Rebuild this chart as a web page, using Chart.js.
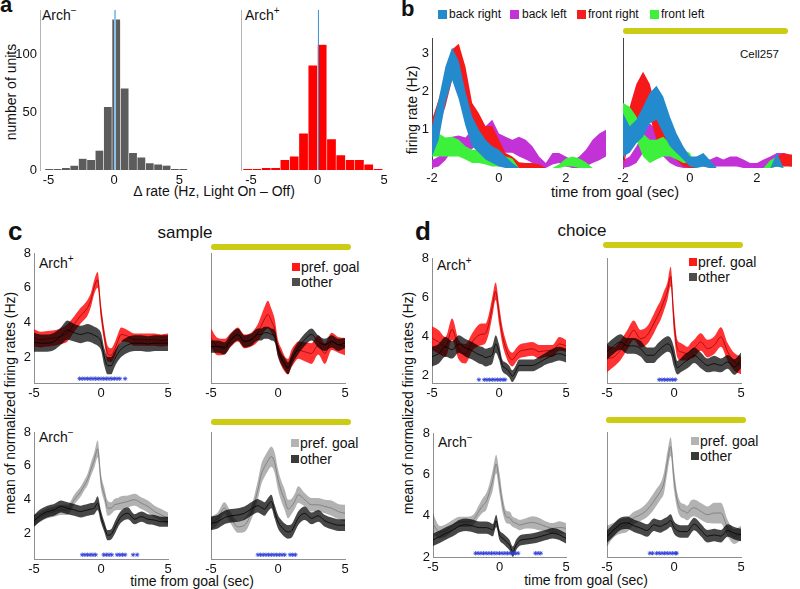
<!DOCTYPE html>
<html><head><meta charset="utf-8">
<script src="https://cdn.jsdelivr.net/npm/chart.js@4.4.1/dist/chart.umd.min.js"></script>
<style>
html,body{margin:0;padding:0;background:#fff;overflow:hidden;}
#fig{position:relative;width:800px;height:589px;overflow:hidden;background:#fff;font-family:"Liberation Sans",Arial,Helvetica,sans-serif;color:#111;}
#fig canvas{position:absolute;left:0;top:0;}
.t{position:absolute;white-space:nowrap;line-height:1;}
.lft{position:absolute;white-space:nowrap;line-height:1;transform:translateY(-50%);}
.ctr{position:absolute;white-space:nowrap;line-height:1;transform:translate(-50%,-50%);}
.rot{position:absolute;white-space:nowrap;line-height:1;transform:translate(-50%,-50%) rotate(-90deg);}
.ybar{position:absolute;background:#cccc14;border-radius:3px;height:6px;}
.sq{position:absolute;width:8px;height:8px;}
.sup{font-size:10px;position:relative;top:-6px;}
.bold{font-weight:bold;}
</style></head>
<body><div id="fig">
<div class="t bold" style="left:0;top:-6px;font-size:22px;">a</div>
<div class="t bold" style="left:401px;top:-2px;font-size:22px;">b</div>
<div class="t bold" style="left:8px;top:218px;font-size:26px;">c</div>
<div class="t bold" style="left:415px;top:218px;font-size:26px;">d</div>

<div class="t" style="left:42px;top:8px;font-size:14px;">Arch<span class="sup">−</span></div>
<div class="t" style="left:245px;top:8px;font-size:14px;">Arch<span class="sup">+</span></div>
<div class="rot" style="left:11px;top:92px;font-size:14px;">number of units</div>
<div class="ctr" style="left:214px;top:191px;font-size:14px;">Δ rate (Hz, Light On – Off)</div>

<div class="sq" style="left:438px;top:10px;width:9px;height:9px;background:rgb(35,138,205);"></div>
<div class="lft" style="left:449px;top:14px;font-size:12px;">back right</div>
<div class="sq" style="left:510px;top:10px;width:9px;height:9px;background:rgb(195,50,215);"></div>
<div class="lft" style="left:522px;top:14px;font-size:12px;">back left</div>
<div class="sq" style="left:577px;top:10px;width:9px;height:9px;background:rgb(245,30,30);"></div>
<div class="lft" style="left:588px;top:14px;font-size:12px;">front right</div>
<div class="sq" style="left:650px;top:10px;width:9px;height:9px;background:rgb(60,240,60);"></div>
<div class="lft" style="left:661px;top:14px;font-size:12px;">front left</div>
<div class="ybar" style="left:623px;top:28px;width:165px;"></div>
<div class="lft" style="left:740px;top:55px;font-size:11.5px;">Cell257</div>
<div class="rot" style="left:412px;top:110px;font-size:14px;">firing rate (Hz)</div>
<div class="ctr" style="left:615px;top:192px;font-size:14.5px;">time from goal (sec)</div>

<div class="ctr" style="left:185px;top:232px;font-size:17px;">sample</div>
<div class="ctr" style="left:582px;top:230px;font-size:17px;">choice</div>
<div class="t" style="left:39px;top:256px;font-size:14px;">Arch<span class="sup">+</span></div>
<div class="t" style="left:39px;top:430px;font-size:14px;">Arch<span class="sup">−</span></div>
<div class="t" style="left:437px;top:258px;font-size:14px;">Arch<span class="sup">+</span></div>
<div class="t" style="left:438px;top:435px;font-size:14px;">Arch<span class="sup">−</span></div>
<div class="ybar" style="left:211px;top:244px;width:140px;"></div>
<div class="ybar" style="left:211px;top:419px;width:140px;"></div>
<div class="ybar" style="left:603px;top:242px;width:140px;"></div>
<div class="ybar" style="left:606px;top:417px;width:140px;"></div>

<div class="sq" style="left:292px;top:263px;background:rgb(255,25,25);"></div>
<div class="lft" style="left:301px;top:267px;font-size:14px;">pref. goal</div>
<div class="sq" style="left:292px;top:278px;background:#4d4d4d;"></div>
<div class="lft" style="left:301px;top:282px;font-size:14px;">other</div>
<div class="sq" style="left:291px;top:439px;background:#b3b3b3;"></div>
<div class="lft" style="left:300px;top:443px;font-size:14px;">pref. goal</div>
<div class="sq" style="left:291px;top:455px;background:#3a3a3a;"></div>
<div class="lft" style="left:300px;top:459px;font-size:14px;">other</div>
<div class="sq" style="left:689px;top:258px;background:rgb(255,25,25);"></div>
<div class="lft" style="left:698px;top:262px;font-size:14px;">pref. goal</div>
<div class="sq" style="left:689px;top:273px;background:#4d4d4d;"></div>
<div class="lft" style="left:698px;top:277px;font-size:14px;">other</div>
<div class="sq" style="left:691px;top:437px;background:#b3b3b3;"></div>
<div class="lft" style="left:700px;top:441px;font-size:14px;">pref. goal</div>
<div class="sq" style="left:691px;top:452px;background:#3a3a3a;"></div>
<div class="lft" style="left:700px;top:456px;font-size:14px;">other</div>

<div class="rot" style="left:10px;top:403px;font-size:14px;">mean of normalized firing rates (Hz)</div>
<div class="rot" style="left:408px;top:403px;font-size:14px;">mean of normalized firing rates (Hz)</div>
<div class="ctr" style="left:192px;top:581px;font-size:14px;">time from goal (sec)</div>
<div class="ctr" style="left:586px;top:580px;font-size:14px;">time from goal (sec)</div>
</div>
<script>
// ---------- panel a: histograms of Δ rate ----------
const binsArchMinus   = [-4.95,-4.31,-3.67,-3.03,-2.39,-1.75,-1.11,-0.47,0.17,0.81,1.45,2.09,2.73,3.37,4.01,4.65,5.29];
const countsArchMinus = [1,1,2,4,10,9,17,55,131,71,15,11,6,5,4,1,1];
const binsArchPlus    = [-5.25,-4.55,-3.85,-3.15,-2.45,-1.75,-1.05,-0.35,0.35,1.05,1.75,2.45,3.15,3.85,4.55];
const countsArchPlus  = [1,1,2,2,9,12,32,91,109,27,13,9,9,5,1];
const meanArchMinus = 0.08, meanArchPlus = 0.07;
const histTicksX = [-5,0,5], histTicksY = [0,50,100];

// ---------- panel b: example cell (Cell257), firing-rate bands ----------
const bTime = [-2,-1.8,-1.6,-1.4,-1.2,-1,-0.8,-0.6,-0.4,-0.2,0,0.2,0.4,0.6,0.8,1,1.2,1.4,1.6,1.8,2,2.2,2.4,2.6,2.8,3,3.2];
// light off
const offBackRightHi  = [1.1,1.8,2.65,3.15,2.8,2.0,1.35,1.0,0.74,0.57,0.48,0.3,0.13,0,0,0,0,0,0,0,0,0,0,0,0,0,0];
const offBackRightLo  = [0.3,0.74,1.7,2.3,1.8,1.1,0.57,0.4,0.22,0.13,0.04,0,0,0,0,0,0,0,0,0,0,0,0,0,0,0,0];
const offFrontRightHi = [1.26,1.8,2.4,3.1,3.25,2.65,1.7,1.43,1.09,1.1,0.74,0.39,0.3,0.15,0.13,0.13,0.1,0,0,0,0,0,0,0,0,0,0];
const offFrontRightLo = [0.9,1.1,1.6,2.3,2.65,1.87,1.09,0.9,0.65,0.48,0.3,0.13,0.04,0,0,0,0,0,0,0,0,0,0,0,0,0,0];
const offBackLeftHi   = [0.2,0.3,0.6,0.82,0.85,0.8,1.0,1.17,1.09,1.26,0.9,0.82,0.74,0.82,0.74,0.57,0.3,0.13,0.39,0.39,0.3,0.2,0.3,0.48,0.74,0.9,1.0];
const offBackLeftLo   = [0,0.04,0.2,0.45,0.48,0.4,0.5,0.65,0.57,0.65,0.48,0.4,0.4,0.3,0.22,0.13,0,0,0.09,0.13,0.04,0,0,0.04,0.13,0.2,0.3];
const offFrontLeftHi  = [1.09,0.9,0.8,0.82,0.74,0.57,0.48,0.48,0.39,0.39,0.3,0.3,0.25,0,0,0,0,0,0,0.1,0.25,0.3,0.25,0.15,0,0,0];
const offFrontLeftLo  = [0.3,0.3,0.3,0.3,0.3,0.22,0.13,0.13,0.09,0.04,0.04,0.04,0,0,0,0,0,0,0,0,0.04,0.04,0,0,0,0,0];
// light on
const onBackRightHi  = [1.43,1.09,1.26,1.6,1.96,2.15,1.87,1.35,0.9,0.57,0.3,0.3,0.39,0.2,0,0,0,0,0,0,0,0,0,0.39,0,0,0];
const onBackRightLo  = [0.3,0.4,0.65,0.82,1.17,1.26,0.91,0.57,0.39,0.22,0.04,0,0.04,0,0,0,0,0,0,0,0,0,0,0.04,0,0,0];
const onFrontRightHi = [0,1.6,2.2,2.52,2.2,1.52,1.09,0.9,0.65,0.39,0.2,0,0,0,0,0,0,0,0,0,0,0,0,0.3,0.39,0.35,0.35];
const onFrontRightLo = [0,0.74,1.09,1.52,1.35,0.74,0.57,0.39,0.2,0.04,0,0,0,0,0,0,0,0,0,0,0,0,0,0.04,0.04,0.04,0.04];
const onBackLeftHi   = [0.2,0.3,0.57,0.9,1.17,1.0,0.74,0.48,0.3,0.2,0.13,0.3,0.22,0.22,0.3,0.22,0.3,0.3,0.22,0.13,0.13,0.22,0.3,0.39,0.39,0.3,0.3];
const onBackLeftLo   = [0,0.04,0.13,0.4,0.65,0.57,0.3,0.13,0.04,0,0,0.04,0.04,0,0.04,0.04,0.04,0.04,0,0,0,0,0.04,0.04,0.13,0.04,0.04];
const onFrontLeftHi  = [1.7,1.6,1.35,0.9,0.74,0.74,0.82,0.65,0.57,0.48,0.39,0,0,0,0,0,0,0,0,0,0,0,0.2,0.3,0,0,0];
const onFrontLeftLo  = [0.9,0.9,0.74,0.3,0.13,0.22,0.3,0.3,0.22,0.13,0.13,0,0,0,0,0,0,0,0,0,0,0,0,0.04,0,0,0];
const bTicksX = [-2,0,2], bTicksY = [1,2,3];

// ---------- panels c, d: population means (mean and s.e.m.) ----------
const T = [-5,-4.5,-4,-3.5,-3,-2.5,-2,-1.5,-1.25,-1,-0.75,-0.5,-0.25,0,0.25,0.5,0.75,1,1.25,1.5,2,2.5,3,3.5,4,4.5,5];
const cdTicksX = [-5,0,5], cdTicksY = [2,4,6,8];
// sample, Arch+, light off
const sPlusOffPref     = [3.1,3.0,3.05,3.1,3.2,3.4,3.9,4.4,4.6,4.85,5.3,6.05,6.45,4.6,3.2,2.2,2.1,2.4,2.9,3.3,3.2,3.0,3.0,3.0,3.0,2.95,3.0];
const sPlusOffPrefSem  = [0.5,0.45,0.45,0.45,0.45,0.5,0.45,0.45,0.45,0.45,0.4,0.4,0.45,0.45,0.4,0.45,0.4,0.4,0.4,0.4,0.35,0.35,0.35,0.35,0.35,0.35,0.35];
const sPlusOffOther    = [2.85,2.8,2.8,2.9,3.2,3.55,3.4,3.3,3.35,3.4,3.35,3.25,3.15,2.9,2.0,1.5,1.5,1.85,2.2,2.45,2.7,2.8,2.8,2.75,2.8,2.8,2.8];
const sPlusOffOtherSem = [0.55,0.5,0.5,0.5,0.5,0.55,0.5,0.5,0.5,0.5,0.5,0.5,0.5,0.5,0.5,0.5,0.5,0.45,0.45,0.45,0.45,0.45,0.45,0.45,0.45,0.45,0.45];
// sample, Arch+, light on
const sPlusOnPref      = [3.1,2.6,2.6,3.0,3.3,2.9,3.0,3.4,3.8,4.2,4.45,4.1,3.6,2.5,2.0,1.6,1.45,1.9,2.2,2.4,2.3,2.2,2.7,2.2,2.9,2.7,2.6];
const sPlusOnPrefSem   = [0.55,0.5,0.45,0.4,0.4,0.4,0.4,0.5,0.6,0.7,0.8,0.7,0.6,0.5,0.5,0.45,0.45,0.5,0.5,0.5,0.55,0.6,0.55,0.6,0.5,0.45,0.5];
const sPlusOnOther     = [2.6,2.6,2.5,3.0,3.3,2.9,3.0,3.3,3.3,3.4,3.4,3.3,3.2,2.4,1.9,1.6,1.35,1.8,2.2,2.5,3.0,3.3,2.9,2.7,2.9,2.7,2.8];
const sPlusOnOtherSem  = [0.35,0.35,0.35,0.35,0.35,0.35,0.35,0.35,0.35,0.35,0.35,0.35,0.35,0.35,0.35,0.35,0.35,0.35,0.35,0.35,0.35,0.35,0.35,0.35,0.35,0.35,0.3];
// sample, Arch-, light off
const sMinusOffPref     = [2.8,3.0,3.2,3.3,3.4,3.4,4.0,4.5,4.85,5.2,5.8,6.35,7.0,5.1,4.3,3.5,3.5,3.7,3.75,3.8,3.9,4.0,3.8,3.6,3.3,3.1,2.9];
const sMinusOffPrefSem  = [0.3,0.3,0.3,0.3,0.3,0.3,0.3,0.3,0.3,0.35,0.4,0.45,0.5,0.45,0.4,0.45,0.35,0.35,0.35,0.4,0.35,0.35,0.35,0.35,0.35,0.35,0.35];
const sMinusOffOther    = [2.75,3.1,3.3,3.4,3.6,3.5,3.4,3.3,3.35,3.4,3.45,3.5,3.8,3.0,2.4,1.9,1.95,2.3,2.7,3.0,3.2,2.85,3.0,2.85,2.8,2.7,2.7];
const sMinusOffOtherSem = [0.35,0.35,0.35,0.35,0.35,0.35,0.35,0.35,0.35,0.35,0.35,0.35,0.4,0.35,0.3,0.3,0.3,0.35,0.35,0.35,0.35,0.3,0.3,0.3,0.3,0.3,0.3];
// sample, Arch-, light on
const sMinusOnPref      = [2.6,2.9,3.5,2.9,2.4,2.5,3.2,4.6,5.5,5.95,6.3,6.55,6.2,5.2,4.5,4.0,3.45,3.6,3.9,4.3,4.0,3.7,3.7,3.6,3.5,3.3,3.2];
const sMinusOnPrefSem   = [0.4,0.35,0.35,0.35,0.35,0.4,0.4,0.55,0.6,0.6,0.6,0.6,0.6,0.6,0.6,0.6,0.55,0.45,0.45,0.5,0.4,0.4,0.4,0.4,0.45,0.45,0.5];
const sMinusOnOther     = [2.6,2.7,2.95,3.05,3.1,3.2,3.45,3.65,3.55,3.45,3.7,3.9,3.3,2.7,2.4,2.2,2.1,2.15,2.5,2.9,3.2,2.9,3.05,2.75,2.6,2.5,2.5];
const sMinusOnOtherSem  = [0.4,0.4,0.4,0.4,0.4,0.4,0.4,0.4,0.4,0.4,0.4,0.4,0.4,0.4,0.4,0.4,0.4,0.4,0.4,0.4,0.4,0.35,0.35,0.35,0.35,0.35,0.35];
// choice, Arch+, light off
const cPlusOffPref     = [3.9,3.7,3.45,4.35,3.3,3.1,3.7,4.05,4.1,4.15,4.65,5.5,6.3,5.15,4.05,3.4,2.95,2.8,3.0,3.2,3.3,3.35,3.2,3.25,3.25,3.6,3.5];
const cPlusOffPrefSem  = [0.6,0.6,0.5,0.55,0.5,0.5,0.45,0.55,0.55,0.5,0.5,0.5,0.45,0.5,0.45,0.4,0.35,0.35,0.35,0.35,0.35,0.35,0.35,0.3,0.3,0.35,0.3];
const cPlusOffOther    = [2.95,3.1,3.45,3.3,3.6,3.4,3.25,3.05,3.0,2.9,2.95,3.05,3.6,3.2,2.5,2.35,2.2,1.95,2.2,2.5,2.5,2.5,2.65,2.85,3.0,3.1,3.0];
const cPlusOffOtherSem = [0.5,0.5,0.5,0.45,0.45,0.45,0.45,0.45,0.45,0.45,0.45,0.45,0.45,0.4,0.3,0.3,0.3,0.3,0.3,0.3,0.3,0.3,0.3,0.3,0.35,0.35,0.35];
// choice, Arch+, light on
const cPlusOnPref      = [2.85,2.93,3.27,3.79,4.3,3.87,4.05,4.65,5.0,5.33,5.8,6.27,7.05,4.73,3.36,3.2,3.15,3.1,3.25,3.36,3.7,3.36,3.53,3.96,3.2,2.68,2.5];
const cPlusOnPrefSem   = [0.7,0.5,0.5,0.5,0.5,0.45,0.45,0.5,0.5,0.5,0.5,0.45,0.5,0.6,0.45,0.45,0.4,0.35,0.4,0.45,0.45,0.45,0.45,0.5,0.45,0.45,0.45];
const cPlusOnOther     = [3.2,3.5,3.7,3.5,3.5,3.36,3.02,3.02,3.2,3.36,3.5,3.6,3.5,2.93,2.38,2.5,2.65,2.76,2.9,3.02,2.76,2.5,2.59,2.5,2.68,2.42,2.76];
const cPlusOnOtherSem  = [0.4,0.4,0.4,0.4,0.4,0.4,0.4,0.4,0.4,0.4,0.4,0.4,0.4,0.5,0.35,0.35,0.4,0.4,0.4,0.4,0.4,0.35,0.4,0.35,0.35,0.4,0.4];
// choice, Arch-, light off
const cMinusOffPref     = [3.6,3.2,3.3,3.55,3.7,3.7,3.78,4.27,4.5,4.68,5.16,5.73,6.5,5.56,4.5,3.95,3.9,3.7,3.63,3.55,3.63,3.67,3.59,3.47,3.39,3.43,3.39];
const cMinusOffPrefSem  = [0.5,0.3,0.3,0.25,0.25,0.25,0.25,0.3,0.35,0.4,0.4,0.5,0.45,0.5,0.4,0.3,0.3,0.25,0.25,0.25,0.25,0.3,0.3,0.25,0.25,0.3,0.25];
const cMinusOffOther    = [2.83,2.98,3.15,3.3,3.5,3.56,3.5,3.42,3.42,3.42,3.38,3.3,3.75,3.07,2.9,2.75,2.58,2.26,2.58,2.78,2.86,2.9,2.98,3.07,3.15,3.07,2.9];
const cMinusOffOtherSem = [0.3,0.3,0.3,0.3,0.3,0.3,0.3,0.3,0.3,0.3,0.3,0.3,0.3,0.25,0.25,0.25,0.25,0.25,0.25,0.25,0.25,0.25,0.25,0.25,0.25,0.25,0.25];
// choice, Arch-, light on
const cMinusOnPref      = [3.0,3.3,3.47,3.55,3.87,4.03,4.27,4.68,4.92,5.16,5.56,6.53,7.3,5.73,4.68,4.27,4.2,4.11,4.3,4.36,4.19,4.03,4.11,4.11,3.39,2.98,3.15];
const cMinusOnPrefSem   = [0.5,0.35,0.35,0.35,0.3,0.3,0.35,0.4,0.4,0.4,0.5,0.5,0.45,0.5,0.4,0.35,0.35,0.35,0.4,0.4,0.4,0.4,0.5,0.5,0.4,0.35,0.35];
const cMinusOnOther     = [2.98,3.3,3.58,3.64,3.5,3.39,3.27,3.55,3.5,3.47,3.55,3.63,3.75,3.42,3.27,3.22,3.22,3.22,3.42,3.58,3.3,3.0,3.06,3.0,3.27,3.14,3.06];
const cMinusOnOtherSem  = [0.3,0.3,0.3,0.3,0.3,0.3,0.3,0.3,0.3,0.3,0.3,0.3,0.3,0.3,0.3,0.3,0.3,0.3,0.3,0.3,0.3,0.3,0.3,0.3,0.3,0.3,0.3];
// significant time bins (asterisks) and the level they are drawn at
const sigSPlusOff  = [-1.6,-1.4,-1.2,-1,-0.8,-0.6,-0.4,-0.2,0,0.2,0.4,0.6,0.8,1,1.2,1.4,1.8];
const sigSPlusOn   = [];
const sigSMinusOff = [-1.4,-1.2,-1,-0.8,-0.6,-0.4,0.2,0.4,0.6,0.8,1.2,1.4,1.6,1.8,2.4,2.7];
const sigSMinusOn  = [-1.5,-1.3,-1.1,-0.9,-0.7,-0.5,-0.3,-0.1,0.1,0.3,0.5,0.9,1.1,1.3];
const sigCPlusOff  = [-1.5,-1.1,-0.9,-0.7,-0.5,-0.3,-0.1,0.1,0.3,0.45];
const sigCPlusOn   = [-1.1,-0.9,-0.7,-0.5,-0.3,-0.1,0.1];
const sigCMinusOff = [-1.8,-1.6,-1.4,-1.2,-1,-0.8,-0.6,-0.4,-0.2,0,0.2,0.4,0.6,0.8,1,1.2,1.4,2.7,2.9,3.1];
const sigCMinusOn  = [-1.8,-1.6,-1.3,-1.1,-0.9,-0.7,-0.5,-0.3,-0.1,0.1,0.2];
const sigLevelSample = 0.75, sigLevelChoiceTop = 1.77, sigLevelChoiceBottom = 2.18;

// ---------- drawing ----------
Chart.defaults.font.family = '"Liberation Sans", Arial, Helvetica, sans-serif';
Chart.defaults.font.size = 13;
Chart.defaults.color = '#111';
const W = 800, H = 589;
const fig = document.getElementById('fig');

function makeChart(o) {
  const yw = 30, xh = 24;
  const c = document.createElement('canvas');
  c.width = W; c.height = H;
  fig.appendChild(c);
  const fit = size => s => {
    if (s.isHorizontal()) s.height = size; else s.width = size;
    s.paddingTop = 0; s.paddingBottom = 0; s.paddingLeft = 0; s.paddingRight = 0;
  };
  const ax = (range, ticks, labels, border, isX) => ({
    type: 'linear', min: range[0], max: range[1], offset: false,
    grid: {display: false, drawTicks: false},
    border: {display: border, color: o.axisColor || '#8f8f8f', width: 1},
    ticks: {display: labels, padding: 3, maxRotation: 0, autoSkip: false, font: {size: 13}, color: '#111'},
    afterBuildTicks: s => { s.ticks = ticks.map(v => ({value: v})); },
    afterFit: fit(isX ? xh : yw)
  });
  return new Chart(c, {
    type: o.type || 'line',
    data: {datasets: o.datasets},
    options: {
      responsive: false, maintainAspectRatio: false, animation: false, devicePixelRatio: 1, events: [],
      layout: {padding: {left: o.l - yw, top: o.t, right: W - o.r, bottom: H - o.b - xh}},
      plugins: {legend: {display: false}, tooltip: {enabled: false}},
      elements: {point: {radius: 0}},
      scales: {
        x: ax(o.xr, o.xt, true, o.xBorder, true),
        y: ax(o.yr, o.yt, o.yLabels, true, false)
      }
    }
  });
}

const pts = (xs, ys) => xs.map((x, i) => ({x, y: ys[i]}));
function band(xs, lo, hi, color, order, smooth) {
  const mode = smooth ? 'monotone' : 'default';
  return [
    {data: pts(xs, lo), borderWidth: 0, pointRadius: 0, fill: false, cubicInterpolationMode: mode, tension: 0, order},
    {data: pts(xs, hi), borderWidth: 0, pointRadius: 0, fill: '-1', backgroundColor: color, cubicInterpolationMode: mode, tension: 0, order}
  ];
}
const line = (xs, ys, color, order) => ({data: pts(xs, ys), borderColor: color, borderWidth: 0.8, pointRadius: 0, fill: false, cubicInterpolationMode: 'monotone', order});
const stars = (xs, level) => ({data: xs.map(x => ({x, y: level})), showLine: false, pointRadius: 2.2, pointStyle: 'star', borderColor: '#2a3ad8', borderWidth: 0.8, order: 0});

// panel a
function hist(area, bins, counts, color, meanX, meanColor, meanWidth, yLabels) {
  makeChart({...area, type: 'bar', xt: histTicksX, yr: [0, 139], yt: histTicksY, yLabels, xBorder: false, axisColor: '#b5b5b5',
    datasets: [
      {type: 'bar', data: pts(bins, counts), backgroundColor: color, borderColor: 'rgba(255,255,255,0.45)', borderWidth: 0.6, barPercentage: 1, categoryPercentage: 1, order: 2},
      {type: 'line', data: [{x: meanX, y: 0}, {x: meanX, y: 139}], borderColor: meanColor, borderWidth: meanWidth, pointRadius: 0, fill: false, order: 1}
    ]});
}
hist({l: 40, t: 10, r: 188, b: 170, xr: [-5.65, 5.65]}, binsArchMinus, countsArchMinus, '#5c5c5c', meanArchMinus, '#8fc4e8', 2, true);
hist({l: 241, t: 10, r: 394, b: 170, xr: [-5.75, 5.75]}, binsArchPlus, countsArchPlus, '#ff0000', meanArchPlus, '#3b8fd0', 1, false);

// panel b
const colBlue = 'rgb(35,138,205)', colPurple = 'rgb(195,50,215)', colRed = 'rgb(245,25,25)', colGreen = 'rgb(60,240,60)';
function cellPanel(area, yLabels, br, bl, fr, fl) {
  makeChart({...area, xt: bTicksX, yr: [0, 3.4], yt: bTicksY, yLabels, xBorder: false, axisColor: '#444',
    datasets: [
      ...band(bTime, br[0], br[1], colBlue, 1, false),
      ...band(bTime, fl[0], fl[1], colGreen, 2, false),
      ...band(bTime, fr[0], fr[1], colRed, 3, false),
      ...band(bTime, bl[0], bl[1], colPurple, 4, false)
    ]});
}
cellPanel({l: 432, t: 38, r: 606, b: 168, xr: [-2, 3.2]}, true,
  [offBackRightLo, offBackRightHi], [offBackLeftLo, offBackLeftHi], [offFrontRightLo, offFrontRightHi], [offFrontLeftLo, offFrontLeftHi]);
cellPanel({l: 623, t: 38, r: 792, b: 168, xr: [-2, 3.05]}, false,
  [onBackRightLo, onBackRightHi], [onBackLeftLo, onBackLeftHi], [onFrontRightLo, onFrontRightHi], [onFrontLeftLo, onFrontLeftHi]);

// panels c, d
const minus = (m, s) => m.map((v, i) => v - s[i]);
const plus  = (m, s) => m.map((v, i) => v + s[i]);
function meanPanel(area, yr, yLabels, pref, prefSem, other, otherSem, sig, sigLevel, archPlus) {
  const prefCol = archPlus ? 'rgba(255,0,0,0.8)' : 'rgba(0,0,0,0.3)';
  const prefLine = archPlus ? '#a30000' : '#777777';
  makeChart({...area, xr: [-5, 5], xt: cdTicksX, yr, yt: cdTicksY, yLabels, xBorder: true,
    datasets: [
      ...band(T, minus(pref, prefSem), plus(pref, prefSem), prefCol, 4, true),
      line(T, pref, prefLine, 3),
      ...band(T, minus(other, otherSem), plus(other, otherSem), 'rgba(0,0,0,0.72)', 2, true),
      line(T, other, '#000', 1),
      stars(sig, sigLevel)
    ]});
}
meanPanel({l: 34, t: 253, r: 168, b: 383}, [0.5, 8], true,  sPlusOffPref, sPlusOffPrefSem, sPlusOffOther, sPlusOffOtherSem, sigSPlusOff, sigLevelSample, true);
meanPanel({l: 211, t: 253, r: 345, b: 383}, [0.5, 8], false, sPlusOnPref, sPlusOnPrefSem, sPlusOnOther, sPlusOnOtherSem, sigSPlusOn, sigLevelSample, true);
meanPanel({l: 34, t: 432, r: 168, b: 559}, [0.5, 8], true,  sMinusOffPref, sMinusOffPrefSem, sMinusOffOther, sMinusOffOtherSem, sigSMinusOff, sigLevelSample, false);
meanPanel({l: 211, t: 432, r: 345, b: 559}, [0.5, 8], false, sMinusOnPref, sMinusOnPrefSem, sMinusOnOther, sMinusOnOtherSem, sigSMinusOn, sigLevelSample, false);
meanPanel({l: 432, t: 258, r: 566, b: 383}, [1.6, 8], true,  cPlusOffPref, cPlusOffPrefSem, cPlusOffOther, cPlusOffOtherSem, sigCPlusOff, sigLevelChoiceTop, true);
meanPanel({l: 607, t: 258, r: 741, b: 383}, [1.6, 8], false, cPlusOnPref, cPlusOnPrefSem, cPlusOnOther, cPlusOnOtherSem, sigCPlusOn, sigLevelChoiceTop, true);
meanPanel({l: 433, t: 433, r: 566, b: 557}, [2, 8], true,  cMinusOffPref, cMinusOffPrefSem, cMinusOffOther, cMinusOffOtherSem, sigCMinusOff, sigLevelChoiceBottom, false);
meanPanel({l: 607, t: 432, r: 741, b: 557}, [2, 8], false, cMinusOnPref, cMinusOnPrefSem, cMinusOnOther, cMinusOnOtherSem, sigCMinusOn, sigLevelChoiceBottom, false);
</script>
</body></html>
